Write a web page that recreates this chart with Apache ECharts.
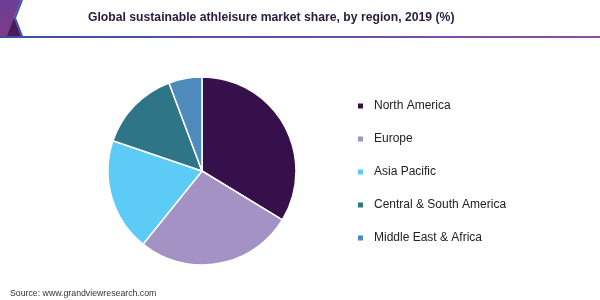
<!DOCTYPE html>
<html>
<head>
<meta charset="utf-8">
<script src="https://cdn.jsdelivr.net/npm/echarts@6/dist/echarts.min.js"></script>
<style>
html,body{margin:0;padding:0;background:#fff;}
#chart{width:600px;height:300px;}
</style>
</head>
<body>
<div id="chart"></div>
<script>
var categories = ["North America", "Europe", "Asia Pacific", "Central & South America", "Middle East & Africa"];
var shares = [33.7, 27.1, 19.4, 14.1, 5.7];
var colors = ["#36104a", "#a592c5", "#5ccbf6", "#2e7687", "#4f8abd"];
var titleText = "Global sustainable athleisure market share, by region, 2019 (%)";
var sourceText = "Source: www.grandviewresearch.com";

var chart = echarts.init(document.getElementById('chart'), null, {renderer: 'canvas'});
var data = categories.map(function (c, i) {
  return {name: c, value: shares[i], itemStyle: {color: colors[i]}};
});
chart.setOption({
  animation: false,
  backgroundColor: '#fff',
  title: {
    text: titleText,
    left: 88,
    top: 12,
    padding: 0,
    textStyle: {fontFamily: 'Liberation Sans, Arial', fontSize: 12.2, fontWeight: 'bold', color: '#2c1a3e'}
  },
  legend: {
    orient: 'vertical',
    left: 356,
    top: 99,
    padding: 0,
    itemWidth: 7,
    itemHeight: 7,
    itemGap: 19,
    icon: 'rect',
    textStyle: {fontFamily: 'Liberation Sans, Arial', fontSize: 12, color: '#222', lineHeight: 14, padding: [0, 0, 0, 5]},
    data: categories
  },
  graphic: [
    {
      type: 'rect',
      shape: {x: 0, y: 36, width: 600, height: 2},
      style: {fill: new echarts.graphic.LinearGradient(0, 0, 1, 0, [{offset: 0, color: '#3b4fa3'}, {offset: 1, color: '#8d4f9f'}])}
    },
    {
      type: 'polygon',
      shape: {points: [[0, 0], [21, 0], [14, 18], [21, 36], [0, 36]]},
      style: {fill: new echarts.graphic.LinearGradient(0, 0, 0, 1, [{offset: 0, color: '#6a3f94'}, {offset: 1, color: '#7e3a88'}])}
    },
    {
      type: 'polygon',
      shape: {points: [[7, 36], [14, 18], [21, 36]]},
      style: {fill: '#4a1a5a'}
    },
    {
      type: 'polyline',
      shape: {points: [[22, 0], [15, 18], [22, 36]]},
      style: {stroke: '#3a56a8', lineWidth: 2, fill: null}
    },
    {
      type: 'text',
      left: 10,
      top: 289,
      style: {text: sourceText, fontFamily: 'Liberation Sans, Arial', fontSize: 8.75, fill: '#333'}
    }
  ],
  series: [{
    type: 'pie',
    center: [202, 171],
    radius: 94,
    startAngle: 90,
    clockwise: true,
    label: {show: false},
    labelLine: {show: false},
    itemStyle: {borderColor: '#fff', borderWidth: 1.5},
    data: data
  }]
});
</script>
</body>
</html>
